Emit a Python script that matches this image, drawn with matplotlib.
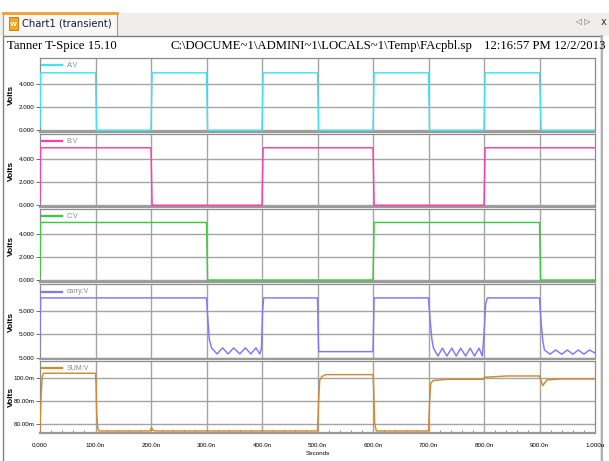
import numpy as np
import matplotlib
matplotlib.use("Agg")
import matplotlib.pyplot as plt
from matplotlib.patches import Rectangle
from matplotlib.ticker import MultipleLocator
from matplotlib import font_manager

# ---------------- data (time in ns) ----------------
a_t = [0, 1, 100, 102, 200, 202, 300, 302, 400, 402, 500, 502, 600, 602, 700, 702, 800, 802, 900, 903, 1000]
a_v = [0.3, 5.0, 5.0, 0.0, 0.0, 5.0, 5.0, 0.0, 0.0, 5.0, 5.0, 0.0, 0.0, 5.0, 5.0, 0.0, 0.0, 5.0, 5.0, 0.0, 0.0]

b_t = [0, 1, 200, 202, 400, 402, 600, 602, 800, 802, 1000]
b_v = [0.3, 5.0, 5.0, 0.0, 0.0, 5.0, 5.0, 0.0, 0.0, 5.0, 5.0]

c_t = [0, 1, 300, 302, 600, 602, 900, 902, 1000]
c_v = [0.3, 5.0, 5.0, 0.0, 0.0, 5.0, 5.0, 0.0, 0.0]

# carry: offset from 5 V in microvolts
carry_t = [0, 1, 300, 302, 305, 309, 319, 329, 339, 349, 360, 370, 380, 389, 396, 399, 401, 403,
           500, 502, 600, 602, 700, 703, 706, 709, 717, 725, 733, 742, 750, 758, 767, 775, 783, 791,
           797, 800, 803, 806, 900, 903, 906, 909, 919, 929, 940, 950, 960, 970, 980, 990, 1000]
carry_uv = [-13.0, 5.6, 5.6, -2.0, -12.0, -15.8, -18.4, -15.8, -18.4, -15.8, -18.4, -15.8, -18.4, -15.8, -18.4, -16.0, 0.0, 5.6,
            5.6, -17.4, -17.4, 5.6, 5.6, -4.0, -12.0, -15.9, -19.3, -15.9, -19.3, -15.9, -19.3, -15.9, -19.3, -15.9, -19.3, -15.9,
            -19.3, -10.0, 3.0, 5.6, 5.6, -5.0, -13.0, -16.7, -18.5, -16.7, -18.5, -16.7, -18.5, -16.7, -18.5, -16.7, -18.0]

# SUM in millivolts
sum_t = [0, 2, 4, 6, 100, 101, 102, 104, 106, 198, 201, 204, 210, 500, 502, 504, 508, 515,
         600, 601, 603, 606, 700, 702, 704, 708, 715, 736, 799, 801, 842, 900, 906, 913, 939, 1000]
sum_mv = [54.5, 85.0, 101.0, 104.4, 104.4, 95.0, 70.0, 56.0, 53.6, 53.6, 56.4, 54.0, 53.6, 53.6, 80.0, 98.5, 101.5, 103.2,
          103.2, 95.0, 60.0, 53.6, 53.6, 80.0, 95.5, 97.9, 98.3, 99.1, 99.1, 100.9, 102.0, 102.0, 93.5, 98.5, 99.4, 99.4]

x_ticks = [0, 100, 200, 300, 400, 500, 600, 700, 800, 900, 1000]
x_labels = ["0.000", "100.0n", "200.0n", "300.0n", "400.0n", "500.0n", "600.0n", "700.0n", "800.0n", "900.0n", "1.000u"]

names = ["A:V", "B:V", "C:V", "carry:V", "SUM:V"]
colors = ["#3FE3F0", "#FF3EA8", "#3CCB3C", "#8474FF", "#D08A30"]

# narrow font if available
avail = {f.name for f in font_manager.fontManager.ttflist}
tick_family = "Liberation Sans Narrow" if "Liberation Sans Narrow" in avail else "Liberation Sans"
tick_size = 5.0 if tick_family == "Liberation Sans Narrow" else 4.5

# ---------------- figure ----------------
W, H = 609, 461
fig = plt.figure(figsize=(W / 100, H / 100), dpi=100)
fig.patch.set_facecolor("white")

bg = fig.add_axes([0, 0, 1, 1])
bg.set_xlim(0, W)
bg.set_ylim(H, 0)
bg.axis("off")

# tab bar
bg.add_patch(Rectangle((0, 13), W, 23, facecolor="#EFEEEA", edgecolor="none"))
bg.add_patch(Rectangle((3, 13), 114, 23, facecolor="#F8F8F4", edgecolor="#9A9A9A", lw=0.8))
bg.plot([3, 117], [13.5, 13.5], color="#F0A030", lw=2)
bg.add_patch(Rectangle((9, 17), 9, 13, facecolor="#F5A623", edgecolor="#C07010", lw=0.6))
bg.text(13.5, 24.5, "W", fontsize=4.5, color="white", ha="center", va="center", family="DejaVu Sans", weight="bold")
bg.text(22, 24, "Chart1 (transient)", fontsize=7.2, color="#1a1a40", va="center", family="DejaVu Sans")
bg.text(583, 22, "\u25C1 \u25B7", fontsize=5.5, color="#555555", va="center", ha="center", family="DejaVu Sans")
bg.text(604, 22, "x", fontsize=7, color="#333333", va="center", ha="center", family="DejaVu Sans")

# chart window frame
bg.add_patch(Rectangle((3, 36), 598, 430, facecolor="white", edgecolor="#808080", lw=1.0))
bg.plot([602, 602], [36, H], color="#B0B0B0", lw=1.5)

hdr = dict(fontsize=9.2, family="Liberation Serif", color="black", va="center")
bg.text(7, 46, "Tanner T-Spice 15.10", ha="left", **hdr)
bg.text(321, 46, "C:\\DOCUME~1\\ADMINI~1\\LOCALS~1\\Temp\\FAcpbl.sp", ha="center", **hdr)
bg.text(606, 46, "12:16:57 PM 12/2/2013", ha="right", **hdr)

# panels (pixel positions)
x0, x1 = 40, 595
panels = [(58, 132), (134, 207), (209, 282), (284, 359), (361, 433)]
ylims = [(-0.148, 6.29), (-0.148, 6.2), (-0.17, 6.17),
         (5 - 20.56e-6, 5 + 11.56e-6), (51.8, 115.2)]

series = [
    (a_t, a_v),
    (b_t, b_v),
    (c_t, c_v),
    (carry_t, list(5.0 + np.array(carry_uv) * 1e-6)),
    (sum_t, sum_mv),
]
yticks = [[0, 2, 4], [0, 2, 4], [0, 2, 4], [4.99998, 4.99999, 5.0], [60, 80, 100]]
ylabels = [["0.000", "2.000", "4.000"]] * 3 + [["5.000", "5.000", "5.000"], ["60.00m", "80.00m", "100.0m"]]

grid_c = "#A4A4A4"
for i, ((top, bot), (t, v)) in enumerate(zip(panels, series)):
    ax = fig.add_axes([x0 / W, 1 - bot / H, (x1 - x0) / W, (bot - top) / H])
    ax.set_facecolor("white")
    ax.plot(t, v, color=colors[i], lw=1.05, zorder=3)
    ax.set_xlim(0, 1000)
    ax.set_ylim(*ylims[i])
    ax.set_yticks(yticks[i])
    ax.set_yticklabels(ylabels[i], fontsize=tick_size, family=tick_family)
    ax.set_xticks(x_ticks)
    for yt in yticks[i]:
        ax.axhline(yt, color=grid_c, lw=1.0, zorder=1)
    for xt in x_ticks[1:-1]:
        ax.axvline(xt, color=grid_c, lw=1.0, zorder=1)
    for s in ax.spines.values():
        s.set_color("#8C8C8C")
        s.set_linewidth(0.9)
    ax.spines["bottom"].set_linewidth(1.6)
    ax.spines["bottom"].set_color("#9A9A9A")
    ax.tick_params(axis="y", length=3, width=0.6, color="#555555", pad=1)
    if i == 4:
        ax.set_xticklabels(x_labels, fontsize=tick_size, family=tick_family)
        ax.tick_params(axis="x", length=0, pad=7)
        ax.xaxis.set_minor_locator(MultipleLocator(20))
        ax.tick_params(axis="x", which="minor", direction="in", length=2.5, width=0.6, color="#777777")
        ax.set_xlabel("Seconds", fontsize=tick_size, family=tick_family, labelpad=2)
    else:
        ax.tick_params(axis="x", length=0, labelbottom=False)
    # legend
    ax.plot([0.003, 0.040], [0.90, 0.90], transform=ax.transAxes, color=colors[i], lw=1.6, zorder=4)
    ax.text(0.048, 0.90, names[i], transform=ax.transAxes, fontsize=5, color="#8A8A8A",
            va="center", family="Liberation Sans", zorder=4)
    fig.text(11 / W, 1 - (top + bot) / 2 / H, "Volts", rotation=90, fontsize=6, weight="bold",
             ha="center", va="center", family="Liberation Sans")

fig.savefig("out.png", dpi=100)
